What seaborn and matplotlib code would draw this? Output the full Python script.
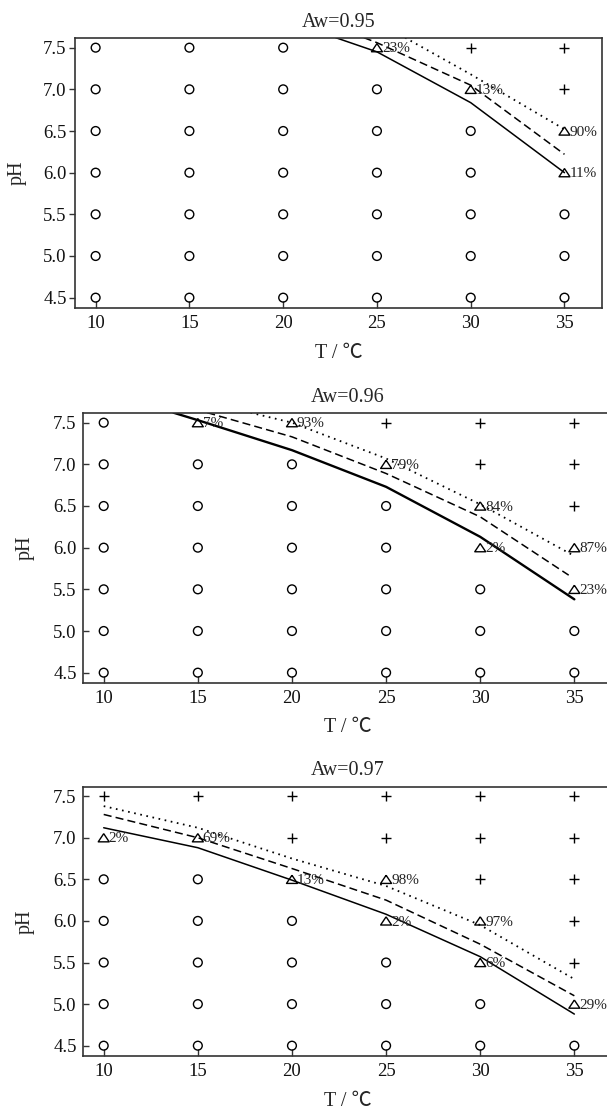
import numpy as np
import pandas as pd
import matplotlib
matplotlib.use("Agg")
import matplotlib.pyplot as plt
import seaborn as sns

# ---------------- data ----------------
T_VALUES = [10, 15, 20, 25, 30, 35]
PH_VALUES = [4.5, 5.0, 5.5, 6.0, 6.5, 7.0, 7.5]
PH_TICK_LABELS = ["4.5", "5.0", "5.5", "6.0", "6.5", "7.0", "7.5"]
T_TICK_LABELS = ["10", "15", "20", "25", "30", "35"]
TITLES = ["Aw=0.95", "Aw=0.96", "Aw=0.97"]
XLABEL = "T / ℃"
YLABEL = "pH"

# Aw = 0.95
aw95_tri_T = [25, 30, 35, 35]
aw95_tri_pH = [7.5, 7.0, 6.5, 6.0]
aw95_tri_pct = ["23%", "13%", "90%", "11%"]
aw95_plus_T = [30, 35, 35]
aw95_plus_pH = [7.5, 7.5, 7.0]
aw95_solid_T = [22.8, 25, 30, 35]
aw95_solid_pH = [7.62, 7.45, 6.84, 6.0]
aw95_dash_T = [24.3, 25, 30, 35]
aw95_dash_pH = [7.62, 7.56, 7.05, 6.22]
aw95_dot_T = [26.5, 30, 35]
aw95_dot_pH = [7.62, 7.18, 6.52]

# Aw = 0.96
aw96_tri_T = [15, 20, 25, 30, 30, 35, 35]
aw96_tri_pH = [7.5, 7.5, 7.0, 6.5, 6.0, 6.0, 5.5]
aw96_tri_pct = ["7%", "93%", "79%", "84%", "2%", "87%", "23%"]
aw96_plus_T = [25, 30, 30, 35, 35, 35]
aw96_plus_pH = [7.5, 7.5, 7.0, 7.5, 7.0, 6.5]
aw96_solid_T = [13.7, 15, 20, 25, 30, 35]
aw96_solid_pH = [7.62, 7.53, 7.17, 6.73, 6.13, 5.38]
aw96_dash_T = [15.5, 20, 25, 30, 34.7]
aw96_dash_pH = [7.62, 7.33, 6.89, 6.37, 5.67]
aw96_dot_T = [17.8, 20, 25, 30, 35]
aw96_dot_pH = [7.62, 7.5, 7.07, 6.52, 5.9]

# Aw = 0.97
aw97_tri_T = [10, 15, 20, 25, 25, 30, 30, 35]
aw97_tri_pH = [7.0, 7.0, 6.5, 6.5, 6.0, 6.0, 5.5, 5.0]
aw97_tri_pct = ["2%", "69%", "13%", "98%", "2%", "97%", "6%", "29%"]
aw97_plus_T = [10, 15, 20, 20, 25, 25, 30, 30, 30, 35, 35, 35, 35, 35]
aw97_plus_pH = [7.5, 7.5, 7.5, 7.0, 7.5, 7.0, 7.5, 7.0, 6.5, 7.5, 7.0, 6.5, 6.0, 5.5]
aw97_solid_T = [10, 15, 20, 25, 30, 35]
aw97_solid_pH = [7.12, 6.88, 6.49, 6.08, 5.57, 4.88]
aw97_dash_T = [10, 15, 20, 25, 30, 35]
aw97_dash_pH = [7.28, 7.0, 6.63, 6.25, 5.72, 5.1]
aw97_dot_T = [10, 15, 20, 25, 30, 35]
aw97_dot_pH = [7.38, 7.12, 6.75, 6.42, 5.95, 5.3]

panels = [
    dict(tri=(aw95_tri_T, aw95_tri_pH, aw95_tri_pct), plus=(aw95_plus_T, aw95_plus_pH),
         solid=(aw95_solid_T, aw95_solid_pH), dash=(aw95_dash_T, aw95_dash_pH),
         dot=(aw95_dot_T, aw95_dot_pH)),
    dict(tri=(aw96_tri_T, aw96_tri_pH, aw96_tri_pct), plus=(aw96_plus_T, aw96_plus_pH),
         solid=(aw96_solid_T, aw96_solid_pH), dash=(aw96_dash_T, aw96_dash_pH),
         dot=(aw96_dot_T, aw96_dot_pH)),
    dict(tri=(aw97_tri_T, aw97_tri_pH, aw97_tri_pct), plus=(aw97_plus_T, aw97_plus_pH),
         solid=(aw97_solid_T, aw97_solid_pH), dash=(aw97_dash_T, aw97_dash_pH),
         dot=(aw97_dot_T, aw97_dot_pH)),
]

# ---------------- style ----------------
sns.set_style("ticks")
FONT = ["Liberation Serif", "Noto Sans CJK SC", "DejaVu Sans"]
plt.rcParams["font.family"] = FONT
plt.rcParams["lines.scale_dashes"] = False
plt.rcParams["axes.edgecolor"] = "#333333"
plt.rcParams["xtick.color"] = "#333333"
plt.rcParams["ytick.color"] = "#333333"
plt.rcParams["xtick.labelcolor"] = "#111111"
plt.rcParams["ytick.labelcolor"] = "#111111"

W, H = 607, 1115
fig = plt.figure(figsize=(W / 100, H / 100), dpi=100)
fig.patch.set_facecolor("white")

boxes = [(75, 38, 527, 270), (83, 413, 529, 270), (83, 786.5, 529, 269.5)]
solid_lw = [1.1, 1.7, 1.1]
TRI = [(0, 0.75), (-1, -0.75), (1, -0.75), (0, 0.75)]

for i, (l, t, w, h) in enumerate(boxes):
    ax = fig.add_axes([l / W, 1 - (t + h) / H, w / W, h / H])
    p = panels[i]
    tri_T, tri_pH, tri_pct = p["tri"]
    plus_T, plus_pH = p["plus"]

    taken = set(zip(tri_T, tri_pH)) | set(zip(plus_T, plus_pH))
    circ = pd.DataFrame([(tt, ph) for tt in T_VALUES for ph in PH_VALUES
                         if (tt, ph) not in taken], columns=["T", "pH"])
    tri_df = pd.DataFrame({"T": tri_T, "pH": tri_pH, "pct": tri_pct})
    plus_df = pd.DataFrame({"T": plus_T, "pH": plus_pH})

    sns.scatterplot(data=circ, x="T", y="pH", marker="o", s=40,
                    facecolors="none", edgecolors="black", linewidth=1.0,
                    ax=ax, legend=False, zorder=3, clip_on=False)
    ax.collections[-1].set_facecolor("none")
    sns.scatterplot(data=tri_df, x="T", y="pH", marker=TRI, s=62,
                    facecolors="none", edgecolors="black", linewidth=1.0,
                    ax=ax, legend=False, zorder=3, clip_on=False)
    ax.collections[-1].set_facecolor("none")
    sns.scatterplot(data=plus_df, x="T", y="pH", marker="+", s=48,
                    color="black", linewidth=1.0, ax=ax, legend=False, zorder=3)

    for tt, ph, lab in zip(tri_T, tri_pH, tri_pct):
        ax.annotate(lab, (tt, ph), xytext=(3.6, -0.8), textcoords="offset points",
                    ha="left", va="center", fontsize=11, color="#222222",
                    annotation_clip=False, zorder=4)

    sT, sP = p["solid"]
    dT, dP = p["dash"]
    oT, oP = p["dot"]
    sns.lineplot(x=sT, y=sP, ax=ax, color="black", lw=solid_lw[i], sort=False,
                 estimator=None, zorder=2)
    sns.lineplot(x=dT, y=dP, ax=ax, color="black", lw=1.1, sort=False,
                 estimator=None, linestyle=(0, (5.8, 3.0)), zorder=2)
    sns.lineplot(x=oT, y=oP, ax=ax, color="black", lw=1.3, sort=False,
                 estimator=None, linestyle=(0, (1.2, 3.3)), zorder=2)

    ax.set_xlim(8.9, 37.0)
    ax.set_ylim(4.376, 7.616)
    ax.set_xticks(T_VALUES)
    ax.set_xticklabels(T_TICK_LABELS)
    ax.set_yticks(PH_VALUES)
    ax.set_yticklabels(PH_TICK_LABELS)
    ax.tick_params(axis="x", direction="in", length=5, width=1.0, pad=5, labelsize=13.5)
    if i == 0:
        ax.tick_params(axis="y", direction="out", length=4, width=1.0, pad=2, labelsize=13.5)
    else:
        ax.tick_params(axis="y", direction="in", length=4, width=1.0, pad=4.5, labelsize=13.5)
    for sp in ax.spines.values():
        sp.set_linewidth(1.2)
        sp.set_color("#333333")

    ax.set_title(TITLES[i], fontsize=14.5, pad=8)
    ax.set_xlabel(XLABEL, fontsize=14.5, va="center")
    ax.xaxis.set_label_coords(0.5, -45 / h)
    ax.set_ylabel(YLABEL, fontsize=14.5, va="center")
    ax.yaxis.set_label_coords(-58 / w, 0.5)
    ax.set_facecolor("white")

fig.savefig("out.png", dpi=100)
